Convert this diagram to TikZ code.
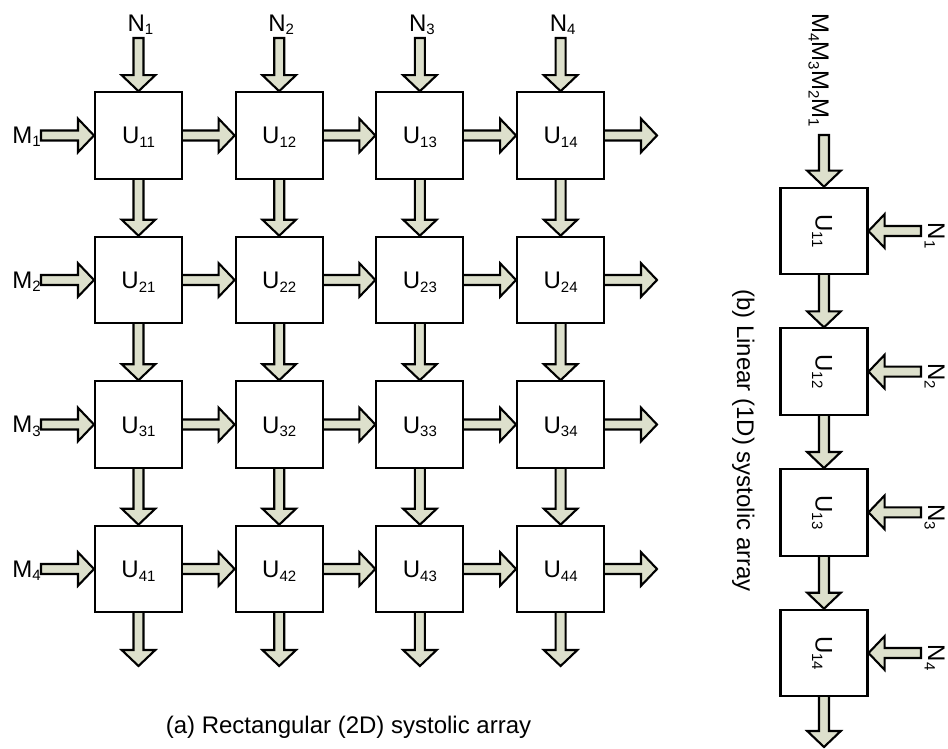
\documentclass[tikz,border=0pt]{standalone}
\usepackage{fontspec}
\setmainfont{Liberation Sans}
\usetikzlibrary{calc,backgrounds}
\definecolor{arrowfill}{RGB}{221,224,204}
\newcommand\subs[1]{\raisebox{-3.5pt}{\fontsize{15}{15}\selectfont #1}}
\newcommand\fatarrow[2]{%
 \begin{pgfonlayer}{background}
 \path ($(#1)!-2pt!(#2)$) coordinate (fa-s) (#2) coordinate (fa-t) ($(#2)!16pt!(#1)$) coordinate (fa-h);
 \draw[fat] ($(fa-s)!5pt!90:(fa-t)$) -- ($(fa-h)!5pt!90:(fa-t)$) -- ($(fa-h)!16.8pt!90:(fa-t)$) -- (fa-t) -- ($(fa-h)!16.8pt!-90:(fa-t)$) -- ($(fa-h)!5pt!-90:(fa-t)$) -- ($(fa-s)!5pt!-90:(fa-t)$) -- cycle;
 \end{pgfonlayer}}
\begin{document}
\begin{tikzpicture}[x=1pt,y=-1pt,
  box/.style={draw, line width=2.1pt, minimum width=87pt, minimum height=86.5pt, inner sep=0pt, fill=white, text height=17pt, text depth=0pt, font=\fontsize{24}{28}\selectfont},
  txt/.style={inner sep=0pt, font=\fontsize{24}{28}\selectfont},
  fat/.style={draw, line width=2.1pt, fill=arrowfill, line join=miter}]
\useasboundingbox (0,0) rectangle (948,749);
% ---- (a) rectangular array ----
\foreach \i in {1,...,4}{
 \foreach \j in {1,...,4}{
  \pgfmathsetmacro\cx{138.5+140.7*(\j-1)}
  \pgfmathsetmacro\cy{135.5+144.5*(\i-1)}
  \node[box] (U\i\j) at (\cx,\cy) {U\subs{\i\j}};
 }}
\foreach \j in {1,...,4}{
  \pgfmathsetmacro\cx{138.5+140.7*(\j-1)}
  \coordinate (Nin\j) at (\cx,40);
  \node[txt, anchor=base] (N\j) at (\cx+2,31.5) {N\subs{\j}};
  \fatarrow{Nin\j}{U1\j.north}
  \coordinate (Bout\j) at (\cx,666);
  \fatarrow{U4\j.south}{Bout\j}
}
\foreach \i in {1,...,4}{
  \pgfmathsetmacro\cy{135.5+144.5*(\i-1)}
  \coordinate (Min\i) at (43,\cy);
  \node[txt, anchor=base east] (M\i) at (41,\cy+8) {M\subs{\i}};
  \fatarrow{Min\i}{U\i1.west}
  \coordinate (Rout\i) at (657,\cy);
  \fatarrow{U\i4.east}{Rout\i}
}
\foreach \i in {1,...,4}{
 \foreach \j [count=\k from 2] in {1,2,3}{
  \fatarrow{U\i\j.east}{U\i\k.west}
 }}
\foreach \j in {1,...,4}{
 \foreach \i [count=\k from 2] in {1,2,3}{
  \fatarrow{U\i\j.south}{U\k\j.north}
 }}
\node[txt, anchor=base] (capA) at (348.5,733) {(a) Rectangular (2D) systolic array};
% ---- (b) linear array ----
\foreach \k in {1,...,4}{
  \pgfmathsetmacro\cy{231+140.67*(\k-1)}
  \node[box] (R\k) at (824,\cy) {};
  \node[txt, rotate=-90, anchor=base] (RL\k) at (815.5,\cy) {U\subs{1\k}};
  \coordinate (RNin\k) at (919,\cy);
  \node[txt, rotate=-90, anchor=base west] (RN\k) at (928,\cy-8.5) {N\subs{\k}};
  \fatarrow{RNin\k}{R\k.east}
}
\foreach \k [count=\m from 2] in {1,2,3}{
  \fatarrow{R\k.south}{R\m.north}
}
\coordinate (RMin) at (824,137);
\fatarrow{RMin}{R1.north}
\node[txt, rotate=-90, anchor=base east] (RM) at (812,127) {M\subs{4}M\subs{3}M\subs{2}M\subs{1}};
\coordinate (RBout) at (824,747);
\fatarrow{R4.south}{RBout}
\node[txt, rotate=-90, anchor=base] (capB) at (737,440.5) {(b) Linear (1D) systolic array};
\end{tikzpicture}
\end{document}
